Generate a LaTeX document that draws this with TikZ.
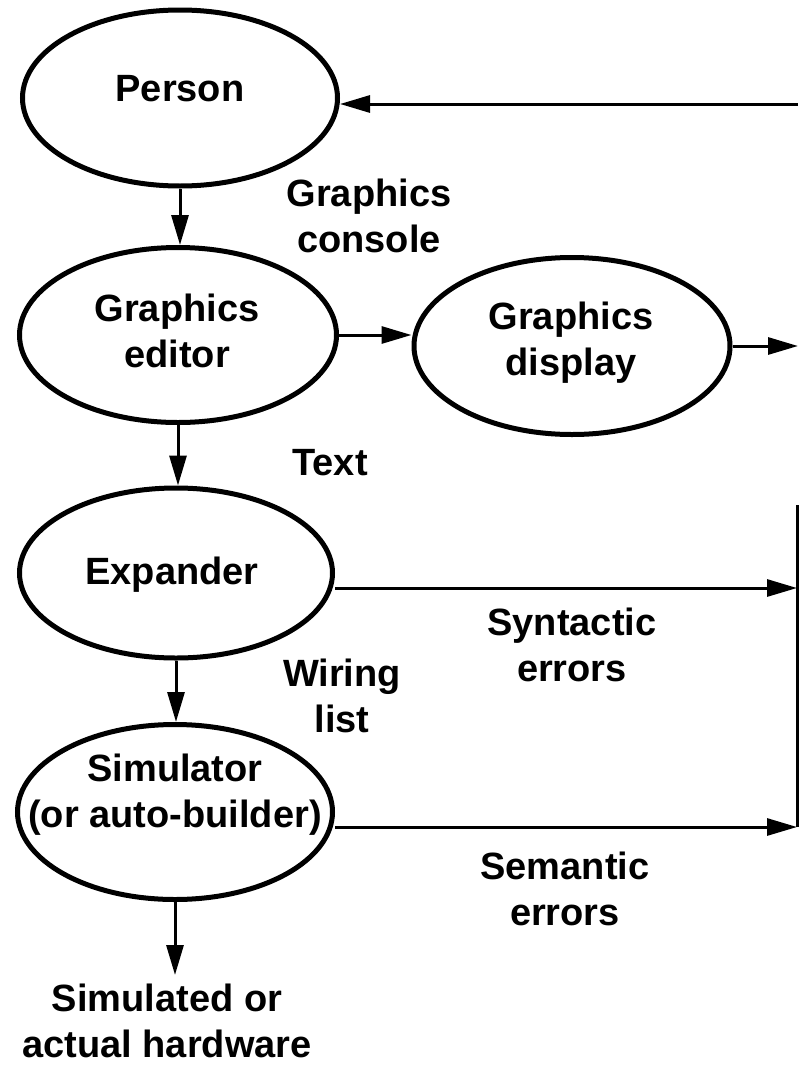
\documentclass[tikz,border=0pt]{standalone}
\usepackage{fontspec}
\setmainfont{Liberation Sans}
\usetikzlibrary{shapes.geometric,arrows.meta}
\begin{document}
\begin{tikzpicture}[x=1pt,y=-1pt,
  oval/.style={ellipse,draw,line width=5pt,inner sep=0pt},
  txt/.style={font=\fontsize{38}{46}\selectfont\bfseries,align=center,inner sep=0pt},
  conn/.style={line width=3pt,-{Triangle[length=30pt,width=17pt]}},
  wire/.style={line width=3pt}]
\useasboundingbox (0,0) rectangle (798,1071);

% ellipses
\node[oval,minimum width=315pt,minimum height=176pt] (P)   at (180,98)  {};
\node[oval,minimum width=317pt,minimum height=175pt] (GE)  at (178,335) {};
\node[oval,minimum width=316pt,minimum height=177pt] (GD)  at (572,346) {};
\node[oval,minimum width=313pt,minimum height=170pt] (EX)  at (176,573) {};
\node[oval,minimum width=315pt,minimum height=175pt] (SIM) at (175,812) {};

% texts inside ellipses
\node[txt] (Pt)   at (180,89)  {Person};
\node[txt] (GEt)  at (177,331) {Graphics\\editor};
\node[txt] (GDt)  at (571,343) {Graphics\\display};
\node[txt] (EXt)  at (172,575) {Expander};
\node[txt] (SIMt) at (175,795) {Simulator\\(or auto-builder)};

% free labels
\node[txt] (lcon)  at (369,216)  {Graphics\\console};
\node[txt] (ltext) at (330,463)  {Text};
\node[txt] (lsyn)  at (572,645)  {Syntactic\\errors};
\node[txt] (lwir)  at (342,696)  {Wiring\\list};
\node[txt] (lsem)  at (565,889)  {Semantic\\errors};
\node[txt] (lhw)   at (167,1021) {Simulated or\\actual hardware};

% free ends
\coordinate (pin)   at (798,104);
\coordinate (gdout) at (798,346);
\coordinate (se)    at (797,588);
\coordinate (vtop)  at (797,505);
\coordinate (sme)   at (797,827);
\coordinate (hw)    at (175,975);

% connectors
\draw[conn] (pin) -- (pin -| P.east);
\draw[conn] (P.south) -- (P.south |- GE.north);
\draw[conn] (GE.east) -- (GE.east -| GD.west);
\draw[conn] (gdout -| GD.east) -- (gdout);
\draw[conn] (GE.south) -- (GE.south |- EX.north);
\draw[conn] (se -| EX.east) -- (se);
\draw[conn] (EX.south) -- (EX.south |- SIM.north);
\draw[conn] (sme -| SIM.east) -- (sme);
\draw[wire] (vtop) -- (sme);
\draw[conn] (SIM.south) -- (hw);
\end{tikzpicture}
\end{document}
